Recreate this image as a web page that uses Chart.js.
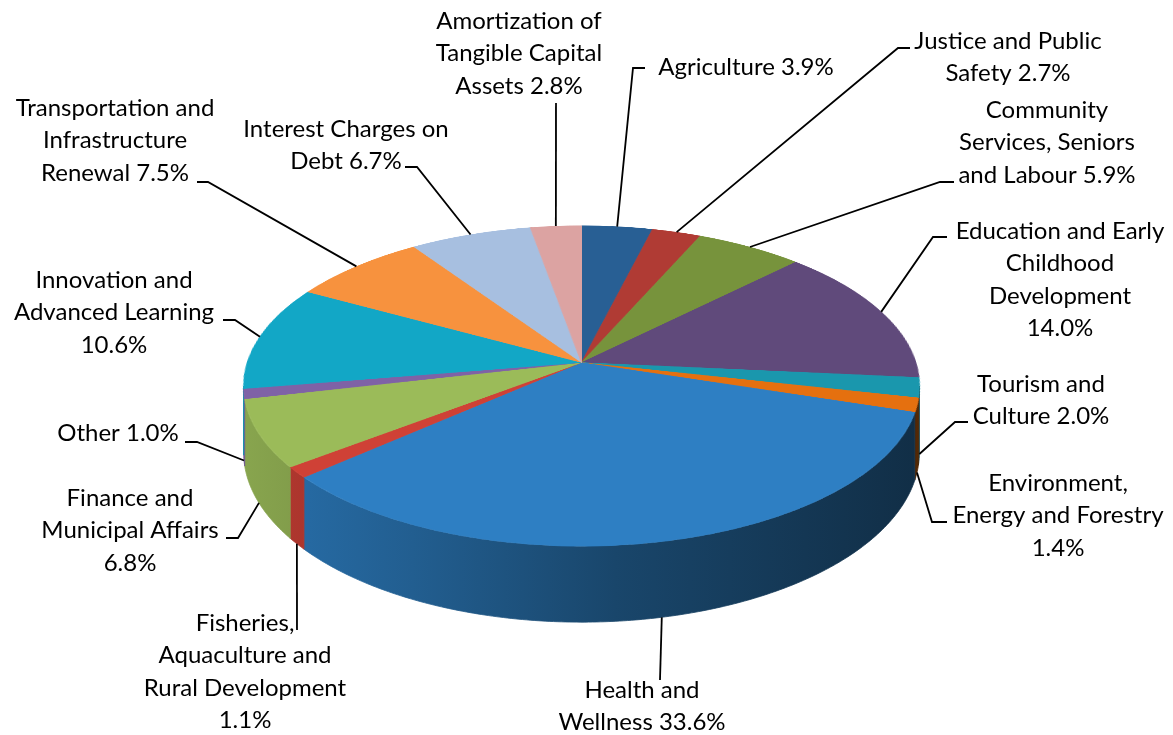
<!DOCTYPE html>
<html>
<head>
<meta charset="utf-8">
<script src="https://cdn.jsdelivr.net/npm/chart.js@4.4.1/dist/chart.umd.min.js"></script>
<style>
  html, body { margin: 0; padding: 0; background: #fff; }
  canvas { display: block; }
</style>
</head>
<body>
<canvas id="budgetChart" width="1173" height="735"></canvas>
<script>
// Expense shares by department, clockwise from 12 o'clock.
// A trailing "\n" puts the percentage on a line of its own.
const categories = [
  "Agriculture",
  "Justice and Public\nSafety",
  "Community\nServices, Seniors\nand Labour",
  "Education and Early\nChildhood\nDevelopment\n",
  "Tourism and\nCulture",
  "Environment,\nEnergy and Forestry\n",
  "Health and\nWellness",
  "Fisheries,\nAquaculture and\nRural Development\n",
  "Finance and\nMunicipal Affairs\n",
  "Other",
  "Innovation and\nAdvanced Learning\n",
  "Transportation and\nInfrastructure\nRenewal",
  "Interest Charges on\nDebt",
  "Amortization of\nTangible Capital\nAssets"
];
const shares = [3.9, 2.7, 5.9, 14.0, 2.0, 1.4, 33.6, 1.1, 6.8, 1.0, 10.6, 7.5, 6.7, 2.8];
const sliceColors = [
  "#285f94", "#b03b34", "#77933c", "#604a7b", "#1a97ad", "#e5700f", "#2e7fc3",
  "#cf4136", "#9bbb59", "#7f62a6", "#12a7c6", "#f7923e", "#a7bfe0", "#dca3a2"
];

// label blocks: centre x, middle of the first line
const labelAt = [
  [746, 67], [1008, 41], [1047, 110], [1060, 231], [1041, 384], [1058, 483], [642, 690],
  [245, 623], [130, 498], [118, 433], [114, 280], [115, 108], [346, 129], [519, 21]
];
// leader line bends, going outwards from the slice
const leaderPath = [
  [[633, 68], [645, 68]], [[898, 48], [910, 48]], [[940, 182], [954, 182]],
  [[933, 237], [947, 237]], [[955, 422], [968, 422]], [[932, 522], [947, 522]],
  [[660, 680]], [[297, 630]], [[238, 538], [226, 538]], [[197, 442], [185, 442]],
  [[235, 320], [223, 320]], [[208, 182], [197, 182]], [[417, 167], [405, 167]],
  [[556, 103]]
];

// view of the disc: camera tilted, near edge closer (simple perspective)
const PERSP = 0.146;    // strength of the perspective
const SCALE_X = 0.989;  // horizontal radius, relative to the chart's radius
const SCALE_Y = 0.464;  // vertical squash
const THICK = 0.192;    // pie thickness, relative to the radius
const LINE_H = 32.5;

function shade(hex, f) {
  const n = parseInt(hex.slice(1), 16);
  const r = Math.round(((n >> 16) & 255) * f);
  const g = Math.round(((n >> 8) & 255) * f);
  const b = Math.round((n & 255) * f);
  return `rgb(${r},${g},${b})`;
}

// project an angle on the rim (h = drop below the top face) to the screen
function rimPoint(arc, th, h) {
  const { x: cx, y: cy, outerRadius: r } = arc;
  const u = Math.cos(th), v = Math.sin(th), w = 1 - PERSP * v;
  return [cx + r * SCALE_X * u / w, cy + (r * SCALE_Y * v + h) / w];
}

const pie3d = {
  id: "pie3d",
  beforeDatasetsDraw(chart) {
    const ctx = chart.ctx;
    const arcs = chart.getDatasetMeta(0).data;
    const { x: cx, y: cy, outerRadius: r } = arcs[0];
    const A = r * SCALE_X, B = r * SCALE_Y, D = r * THICK;
    const edge = Math.asin(PERSP);

    // side wall between the two silhouette points
    arcs.forEach((arc, i) => {
      const a1 = Math.max(arc.startAngle, edge);
      const a2 = Math.min(arc.endAngle, Math.PI - edge);
      if (a2 <= a1) return;
      const n = Math.max(2, Math.ceil((a2 - a1) / 0.01));
      const top = [], bottom = [];
      for (let k = 0; k <= n; k++) {
        const th = a1 + (a2 - a1) * k / n;
        top.push(rimPoint(arc, th, 0));
        bottom.push(rimPoint(arc, th, D));
      }
      const c = sliceColors[i];
      const g = ctx.createLinearGradient(cx - r, 0, cx + r, 0);
      g.addColorStop(0, shade(c, 0.88));
      g.addColorStop(0.25, shade(c, 0.74));
      g.addColorStop(0.55, shade(c, 0.55));
      g.addColorStop(1, shade(c, 0.36));
      ctx.save();
      ctx.beginPath();
      top.forEach((p, k) => k ? ctx.lineTo(p[0], p[1]) : ctx.moveTo(p[0], p[1]));
      bottom.reverse().forEach(p => ctx.lineTo(p[0], p[1]));
      ctx.closePath();
      ctx.fillStyle = g;
      ctx.strokeStyle = g;
      ctx.lineWidth = 0.8;
      ctx.fill();
      ctx.stroke();
      ctx.restore();
    });

    // top face: let the arcs paint a flat disc, then lay it down row by row
    const flat = document.createElement("canvas");
    flat.width = chart.width;
    flat.height = chart.height;
    const fctx = flat.getContext("2d");
    arcs.forEach(a => a.draw(fctx));
    const y0 = Math.floor(cy - B / (1 + PERSP)) - 1;
    const y1 = Math.ceil(cy + B / (1 - PERSP)) + 1;
    const sx0 = cx - r - 2, sw = 2 * r + 4;
    for (let Y = y0; Y <= y1; Y++) {
      const d = Y + 0.5 - cy;
      let v = d / (B + PERSP * d);
      v = Math.max(-1.01, Math.min(1.01, v));
      const ys = cy + r * v;
      const k = A / (r * (1 - PERSP * v));
      ctx.drawImage(flat, sx0, ys - 0.5, sw, 1, cx + (sx0 - cx) * k, Y, sw * k, 1);
    }
    return false;
  },
  afterDraw(chart) {
    const ctx = chart.ctx;
    const arcs = chart.getDatasetMeta(0).data;
    const D = arcs[0].outerRadius * THICK;
    ctx.save();
    ctx.strokeStyle = "#000";
    ctx.lineWidth = 1.8;
    ctx.fillStyle = "#000";
    ctx.font = "24px Lato";
    ctx.textAlign = "center";
    ctx.textBaseline = "middle";
    arcs.forEach((arc, i) => {
      const m = (arc.startAngle + arc.endAngle) / 2;
      const [ax, ay] = rimPoint(arc, m, Math.sin(m) > PERSP ? D : 0);
      ctx.beginPath();
      ctx.moveTo(ax, ay);
      leaderPath[i].forEach(p => ctx.lineTo(p[0], p[1]));
      ctx.stroke();

      const name = categories[i];
      const pct = shares[i].toFixed(1) + "%";
      const text = name.endsWith("\n") ? name + pct : name + " " + pct;
      text.split("\n").forEach((line, k) => {
        ctx.fillText(line, labelAt[i][0], labelAt[i][1] + k * LINE_H);
      });
    });
    ctx.restore();
  }
};

new Chart(document.getElementById("budgetChart"), {
  type: "pie",
  data: {
    labels: categories.map(c => c.trim().replace(/\n/g, " ")),
    datasets: [{
      data: shares,
      backgroundColor: sliceColors,
      borderColor: sliceColors,
      borderWidth: 1
    }]
  },
  options: {
    responsive: false,
    animation: false,
    layout: { padding: { left: 243, right: 253, top: 24, bottom: 34 } },
    plugins: {
      legend: { display: false },
      tooltip: { enabled: false }
    }
  },
  plugins: [pie3d]
});
</script>
</body>
</html>
